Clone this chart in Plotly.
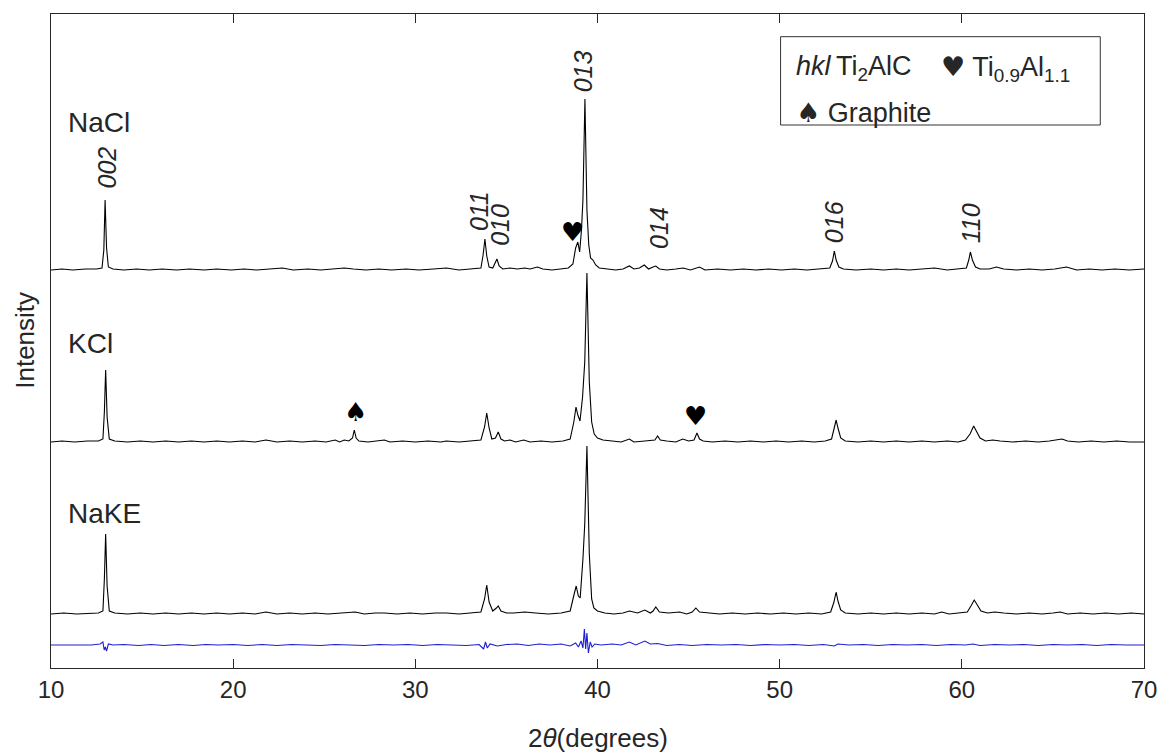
import plotly.graph_objects as go

# ---------------- data (2theta in degrees, intensity relative to each pattern's baseline) ----------------
nacl_pts = [(10,0),(10.6,1),(11.2,0),(11.9,1),(12.5,1),(12.8,2),(12.9,20),(12.97,70),(13.05,22),(13.15,3),(13.4,1),
            (14,0),(14.7,1),(15.4,0),(16.1,1),(16.9,0),(17.6,1),(18.4,0),(19.1,1),(19.9,0),(20.6,1),(21.3,0),(22,1),
            (22.7,2),(23.3,0),(24.1,1),(24.8,0),(25.6,1),(26.1,2),(26.6,1),(27.3,0),(28,1),(28.7,0),(29.5,1),(30.2,0),
            (31,1),(31.7,2),(32.4,0),(33.1,1),(33.6,2),(33.72,15),(33.82,31),(33.92,14),(34.05,3),(34.25,2),(34.4,8),
            (34.48,11),(34.6,4),(34.8,1),(35.2,2),(35.6,1),(36.0,2),(36.3,1),(36.7,3),(37.0,1),(37.5,0),(38.0,1),
            (38.4,2),(38.65,6),(38.8,22),(38.92,28),(39.02,18),(39.12,40),(39.2,70),(39.31,171),(39.42,60),(39.52,25),
            (39.62,12),(39.75,10),(39.9,5),(40.1,2),(40.5,1),(41.0,0),(41.4,1),(41.75,4),(42.0,1),(42.3,2),(42.57,5),
            (42.8,1),(43.05,3),(43.2,4),(43.4,1),(43.8,0),(44.3,1),(44.7,2),(45.1,0),(45.6,3),(45.9,0),(46.6,1),
            (47.3,0),(48,1),(48.7,0),(49.4,1),(50.1,0),(50.8,1),(51.5,0),(52.2,1),(52.75,2),(52.9,9),(53.0,19),
            (53.1,10),(53.25,3),(53.5,1),(54.2,0),(55,1),(55.7,0),(56.4,1),(57.1,0),(57.8,1),(58.5,2),(59.2,0),
            (59.8,1),(60.25,2),(60.38,10),(60.47,18),(60.58,10),(60.75,3),(61.0,1),(61.5,1),(61.9,3),(62.3,1),(63,0),
            (63.7,1),(64.4,0),(65.1,1),(65.75,3),(66.3,0),(67,1),(67.7,0),(68.4,1),(69.2,0),(70,1)]

kcl_pts = [(10,0),(10.6,1),(11.3,0),(12,1),(12.6,1),(12.85,3),(12.93,30),(13.0,72),(13.08,25),(13.2,3),(13.5,1),
           (14.2,0),(14.9,1),(15.6,0),(16.3,1),(17,0),(17.7,1),(18.4,0),(19.1,1),(19.8,0),(20.5,1),(21.2,0),(21.8,2),
           (22.4,0),(23.1,1),(23.8,0),(24.5,1),(25.1,0),(25.6,2),(25.85,0),(26.1,2),(26.35,1),(26.55,4),(26.65,12),
           (26.75,4),(26.9,1),(27.4,0),(28.0,1),(28.3,2),(28.6,0),(29.3,1),(30,0),(30.7,1),(31.4,0),(31.7,1),(32.4,0),
           (33.1,1),(33.6,2),(33.8,15),(33.92,29),(34.05,14),(34.2,3),(34.4,4),(34.55,10),(34.7,3),(34.9,1),(35.2,2),
           (35.5,0),(35.95,2),(36.3,0),(36.9,1),(37.5,0),(38.1,1),(38.5,3),(38.7,20),(38.82,35),(38.92,27),(39.04,21),
           (39.18,45),(39.3,80),(39.42,169),(39.55,60),(39.68,20),(39.82,8),(40.0,4),(40.3,2),(40.8,1),(41.3,0),
           (41.75,3),(42.0,0),(42.6,1),(43.15,2),(43.3,6),(43.45,2),(43.8,1),(44.3,0),(44.68,3),(45.0,1),(45.3,2),
           (45.46,9),(45.6,3),(45.8,1),(46.3,0),(47,1),(47.7,0),(48.4,1),(49.1,0),(49.8,1),(50.5,0),(51.2,1),(51.9,0),
           (52.5,1),(52.85,3),(53.0,13),(53.1,22),(53.2,14),(53.35,4),(53.6,1),(54.3,0),(55,1),(55.7,0),(56.4,1),
           (57.1,0),(57.8,1),(58.5,0),(59.2,1),(59.8,0),(60.2,2),(60.45,8),(60.65,16),(60.8,11),(61.0,4),(61.3,1),
           (61.7,2),(62.1,1),(62.8,0),(63.5,1),(64.2,0),(64.8,1),(65.5,3),(65.8,1),(66.4,0),(67.1,1),(67.8,0),
           (68.5,1),(69.2,0),(70,0)]

nake_pts = [(10,0),(10.7,1),(11.4,0),(12.1,1),(12.6,1),(12.85,3),(12.93,35),(13.0,80),(13.08,28),(13.2,3),(13.5,1),
            (14.2,0),(14.9,1),(15.6,0),(16.3,1),(17,0),(17.7,1),(18.4,0),(19.1,1),(19.8,0),(20.5,1),(21.2,0),(21.8,2),
            (22.4,0),(23.1,1),(23.8,0),(24.5,1),(25.2,0),(26.1,1),(26.7,2),(27.2,0),(27.8,1),(28.3,1),(29,0),(29.7,1),
            (30.4,0),(31.1,1),(31.7,1),(32.4,0),(33.1,1),(33.6,2),(33.8,15),(33.92,29),(34.05,12),(34.25,3),(34.45,6),
            (34.55,8),(34.7,3),(35.0,1),(35.4,1),(36.0,2),(36.6,1),(37.3,0),(38.0,1),(38.5,3),(38.72,20),(38.83,28),
            (38.95,18),(39.05,16),(39.2,55),(39.3,90),(39.42,168),(39.55,60),(39.68,15),(39.8,6),(40.0,3),(40.4,1),
            (40.9,0),(41.4,1),(41.75,3),(42.2,1),(42.6,4),(42.9,1),(43.05,3),(43.2,7),(43.4,2),(43.9,1),(44.5,2),
            (44.9,0),(45.2,2),(45.4,6),(45.6,2),(46.0,1),(46.7,0),(47.4,1),(48.1,0),(48.8,1),(49.5,0),(50.2,1),
            (50.9,0),(51.6,1),(52.3,0),(52.8,2),(52.98,12),(53.1,22),(53.2,13),(53.35,4),(53.6,1),(54.3,0),(55,1),
            (55.7,0),(56.4,1),(57.1,0),(57.8,1),(58.5,0),(58.9,2),(59.3,0),(59.9,1),(60.3,2),(60.5,8),(60.68,14),
            (60.85,9),(61.05,3),(61.4,1),(61.8,2),(62.3,1),(63,0),(63.7,1),(64.4,0),(65.0,1),(65.4,2),(65.8,0),
            (66.5,1),(67.2,0),(67.9,1),(68.6,0),(69.3,1),(70,0)]

diff_pts = [(10,0),(10.8,0),(11.5,0.5),(12.2,0),(12.7,1),(12.85,3),(12.92,-5),(12.98,-2),(13.05,-6),(13.15,1),
            (13.4,0),(14,0.5),(14.8,-0.5),(15.5,0.5),(16.2,-0.5),(17,0.5),(17.8,-0.5),(18.5,0.5),(19.2,0),(20,0.5),
            (20.8,-0.5),(21.6,0.5),(22.4,-0.5),(23.2,0.5),(24,0),(24.8,-0.5),(25.6,0.5),(26.4,0),(27.2,-0.5),
            (28,0.5),(28.8,0),(29.6,0.5),(30.4,-0.5),(31.2,0.5),(32,0),(32.8,-0.5),(33.5,0.5),(33.75,-4),(33.85,3),
            (33.95,-3),(34.1,1),(34.5,-1),(35,0.5),(35.6,1),(36.2,-0.5),(36.8,1),(37.4,0),(38.0,1),(38.5,-1),
            (38.8,2),(38.95,-2),(39.1,4),(39.2,-3),(39.28,16),(39.35,-4),(39.42,12),(39.5,-8),(39.6,3),(39.7,-2),
            (39.85,1),(40.2,0),(40.8,1),(41.3,0),(41.75,3),(42.1,0),(42.6,4),(42.9,1),(43.3,1.5),(43.8,-0.5),
            (44.5,0.5),(45.2,-0.5),(46,0.5),(46.8,0),(47.6,0.5),(48.4,-0.5),(49.2,0.5),(50,0),(50.8,0.5),(51.6,-0.5),
            (52.4,0.5),(53.0,-1),(53.2,1),(53.8,0),(54.6,0.5),(55.4,-0.5),(56.2,0.5),(57,0),(57.8,0.5),(58.6,-0.5),
            (59.4,0.5),(60.2,0),(60.6,1),(61,-0.5),(61.8,0.5),(62.6,0),(63.4,0.5),(64.2,-0.5),(65,0.5),(65.8,0),
            (66.6,0.5),(67.4,-0.5),(68.2,0.5),(69,0),(70,0)]

sample_names = ["NaCl", "KCl", "NaKE"]
hkl_labels = ["002", "011", "010", "013", "014", "016", "110"]
hkl_x = [13.1, 33.5, 34.64, 39.22, 43.37, 52.99, 60.52]
hkl_y = [501, 457, 443, 597, 440, 446, 445]
heart_x = [38.64, 45.4]
heart_y = [436, 252]
spade_x = [26.71]
spade_y = [256]
x_ticks = [10, 20, 30, 40, 50, 60, 70]

# ---------------- layout constants ----------------
offsets = [398, 226, 54]
diff_offset = 23
FONT = "Liberation Sans, Arial, Helvetica, sans-serif"
TXT = "#262626"

fig = go.Figure()
for pts, off in zip([nacl_pts, kcl_pts, nake_pts], offsets):
    xs = [p[0] for p in pts]
    ys = [p[1] + off for p in pts]
    fig.add_trace(go.Scatter(x=xs, y=ys, mode="lines", line=dict(color="black", width=1.1),
                             showlegend=False, hoverinfo="skip"))
fig.add_trace(go.Scatter(x=[p[0] for p in diff_pts], y=[p[1] + diff_offset for p in diff_pts], mode="lines",
                         line=dict(color="#1f1fd0", width=1.1), showlegend=False, hoverinfo="skip"))

ann = []
# sample labels
for name, yy in zip(sample_names, [546, 325, 155]):
    ann.append(dict(x=10.83, y=yy, xref="x", yref="y", text=name, showarrow=False, xanchor="left",
                    yanchor="middle", font=dict(family=FONT, size=28, color=TXT)))
# hkl labels (rotated, italic)
for t, xx, yy in zip(hkl_labels, hkl_x, hkl_y):
    ann.append(dict(x=xx, y=yy, xref="x", yref="y", text="<i>%s</i>" % t, textangle=-90, showarrow=False,
                    font=dict(family=FONT, size=25, color=TXT)))
for xx, yy in zip(heart_x, heart_y):
    ann.append(dict(x=xx, y=yy, xref="x", yref="y", text="\u2665", showarrow=False,
                    font=dict(family="DejaVu Sans", size=26, color="black")))
for xx, yy in zip(spade_x, spade_y):
    ann.append(dict(x=xx, y=yy, xref="x", yref="y", text="\u2660", showarrow=False,
                    font=dict(family="DejaVu Sans", size=26, color="black")))

# legend box content
ann.append(dict(x=50.8, y=600, xref="x", yref="y", text="<i>hkl</i>\u2009Ti<sub>2</sub>AlC", showarrow=False,
                xanchor="left", yanchor="middle", font=dict(family=FONT, size=27, color=TXT)))
ann.append(dict(x=58.75, y=600, xref="x", yref="y",
                text="<span style='font-family:DejaVu Sans'>\u2665</span> Ti<sub>0.9</sub>Al<sub>1.1</sub>",
                showarrow=False, xanchor="left", yanchor="middle", font=dict(family=FONT, size=27, color=TXT)))
ann.append(dict(x=50.8, y=556, xref="x", yref="y",
                text="<span style='font-family:DejaVu Sans'>\u2660</span> Graphite",
                showarrow=False, xanchor="left", yanchor="middle", font=dict(family=FONT, size=27, color=TXT)))

# axis titles
ann.append(dict(x=0.5, y=(668 - 738) / 654, xref="paper", yref="paper", text="2<i>\u03b8</i>(degrees)",
                showarrow=False, xanchor="center", yanchor="middle", font=dict(family=FONT, size=26, color=TXT)))
ann.append(dict(x=-0.024, y=(668 - 340) / 654, xref="paper", yref="paper", text="Intensity", textangle=-90,
                showarrow=False, xanchor="center", yanchor="middle", font=dict(family=FONT, size=26, color=TXT)))

fig.update_layout(
    width=1169, height=754,
    margin=dict(l=51, r=19, t=14, b=86),
    paper_bgcolor="white", plot_bgcolor="white",
    annotations=ann,
    shapes=[dict(type="rect", xref="x", yref="y", x0=50.05, x1=67.6, y0=543, y1=631.3,
                 line=dict(color="#333333", width=1), fillcolor="rgba(0,0,0,0)")],
    xaxis=dict(range=[10, 70], tickvals=x_ticks, ticks="inside", ticklen=9, tickcolor="#262626",
               showline=True, linecolor="#262626", linewidth=1, mirror="ticks", showgrid=False, zeroline=False,
               tickfont=dict(family=FONT, size=24, color=TXT)),
    yaxis=dict(range=[0, 654], showticklabels=False, ticks="", showline=True, linecolor="#262626",
               linewidth=1, mirror=True, showgrid=False, zeroline=False),
)

fig.write_html("out.html")
